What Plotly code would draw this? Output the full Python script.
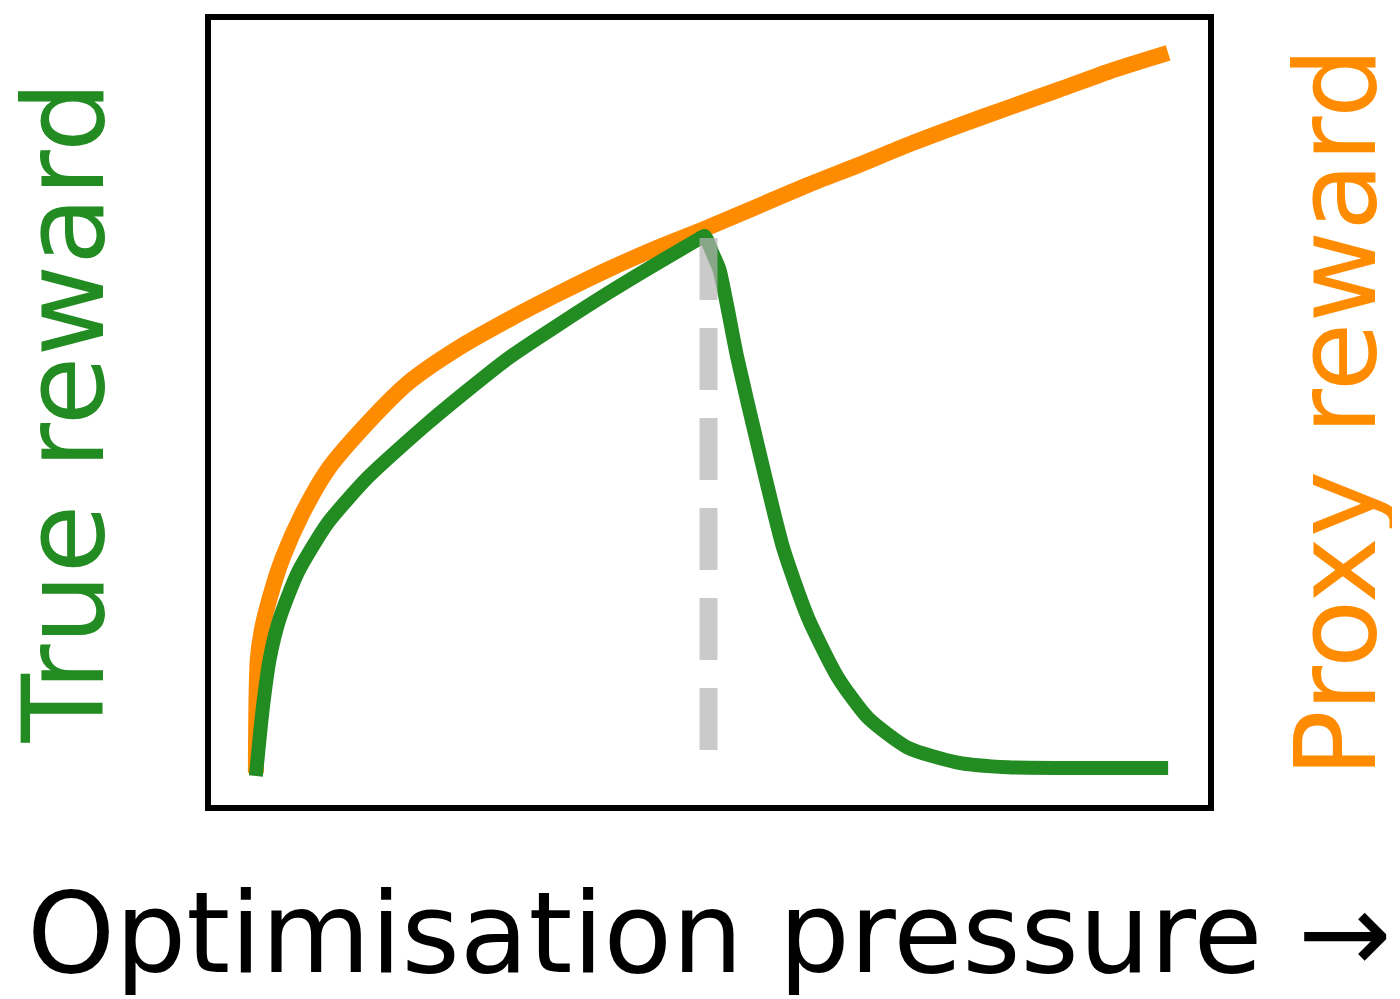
import plotly.graph_objects as go

# Proxy reward curve (orange)
proxy_x = [4.5, 4.7, 5.1, 5.9, 7.2, 9.2, 11.7, 14.8, 19.8, 24.8, 29.8, 34.8, 39.8, 44.8,
           49.5, 54.9, 59.9, 64.9, 69.9, 74.9, 79.9, 85.0, 90.0, 96.0]
proxy_y = [4.1, 18.7, 22.3, 26.4, 31.5, 37.2, 42.7, 47.4, 53.8, 58.2, 61.8, 65.1, 68.2, 71.0,
           73.4, 76.3, 79.0, 81.5, 84.1, 86.5, 88.8, 91.1, 93.4, 95.8]

# True reward curve (green)
true_x = [4.5, 5.2, 5.9, 6.9, 8.7, 11.7, 15.7, 21.8, 29.8, 39.8, 48.8, 49.5, 50.3, 51.0,
          52.8, 54.9, 57.4, 59.9, 62.9, 65.9, 69.9, 74.9, 79.9, 90.0, 96.0]
true_y = [3.7, 12.4, 18.7, 23.8, 29.6, 35.9, 41.7, 48.7, 56.9, 65.2, 72.0, 72.5, 70.3, 68.2,
          56.9, 45.5, 32.7, 23.8, 16.2, 11.1, 7.3, 5.4, 4.8, 4.7, 4.7]

# Peak marker (dashed vertical)
peak_x = [49.9, 49.9]
peak_y = [7.0, 72.3]

fig = go.Figure()

fig.add_trace(go.Scatter(x=proxy_x, y=proxy_y, mode='lines',
                         line=dict(color='#FF8C00', width=16, shape='spline', smoothing=0.8),
                         showlegend=False))
fig.add_trace(go.Scatter(x=true_x, y=true_y, mode='lines',
                         line=dict(color='#228B22', width=14, shape='spline', smoothing=0.6),
                         showlegend=False))
fig.add_trace(go.Scatter(x=peak_x, y=peak_y, mode='lines',
                         line=dict(color='rgba(180,180,180,0.7)', width=18, dash='62px,28px'),
                         showlegend=False))

font = 'DejaVu Sans'
fig.update_layout(
    width=1400, height=999,
    paper_bgcolor='white', plot_bgcolor='white',
    margin=dict(l=203, r=200, t=12, b=202, autoexpand=False),
    xaxis=dict(range=[0, 100], showticklabels=False, showgrid=False, zeroline=False,
               showline=True, mirror=True, linecolor='black', linewidth=6, ticks=''),
    yaxis=dict(range=[0, 100], showticklabels=False, showgrid=False, zeroline=False,
               showline=True, mirror=True, linecolor='black', linewidth=6, ticks=''),
    annotations=[
        dict(text='True reward', xref='paper', yref='paper', x=0, y=0.5, xanchor='center',
             yanchor='middle', xshift=-148, textangle=-90, showarrow=False,
             font=dict(family=font, size=112, color='#228B22')),
        dict(text='Proxy reward', xref='paper', yref='paper', x=1, y=0.5, xanchor='center',
             yanchor='middle', xshift=127, textangle=-90, showarrow=False,
             font=dict(family=font, size=112, color='#FF8C00')),
        dict(text='Optimisation pressure →', xref='paper', yref='paper', x=0.5, y=0,
             xanchor='center', yanchor='middle', yshift=-128, showarrow=False,
             font=dict(family=font, size=112, color='black')),
    ],
)

fig.write_html("out.html")
